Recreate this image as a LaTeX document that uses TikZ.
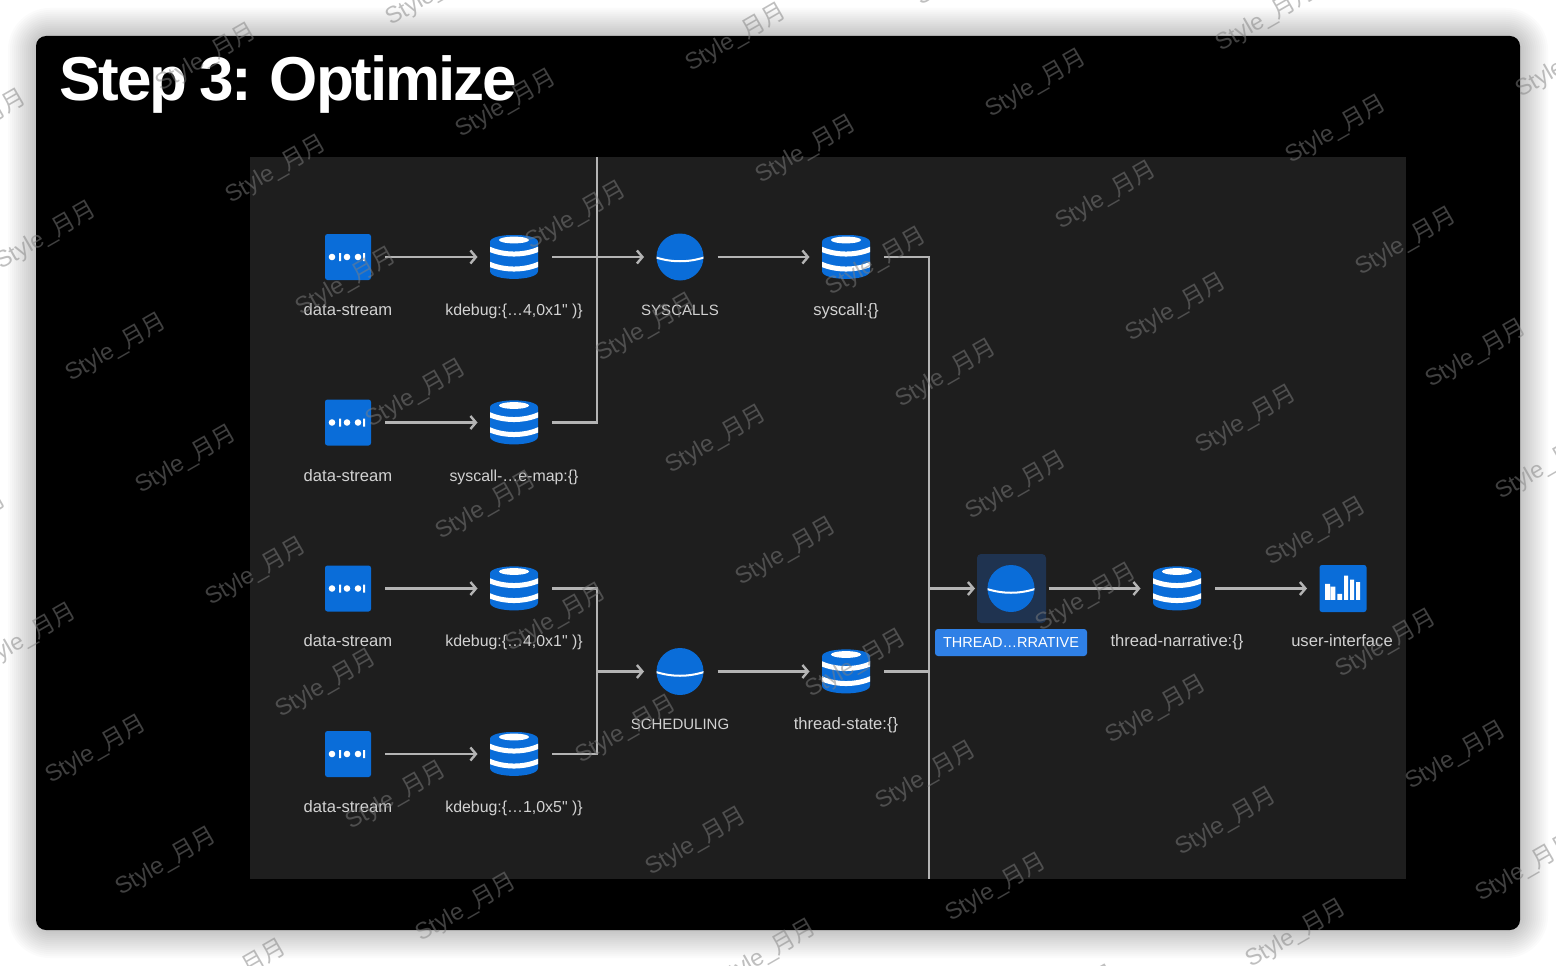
\documentclass[tikz,border=0pt]{standalone}
\usepackage{fontspec}
\setmainfont{Liberation Sans}
\newfontfamily\lblfont{Liberation Sans}
\newfontfamily\titlefont[LetterSpace=-3.3,WordSpace=0.8]{Liberation Sans}
\newfontfamily\cjk{Noto Sans CJK SC}
\usetikzlibrary{arrows.meta}
\definecolor{iconblue}{HTML}{0A6DD9}
\definecolor{pillblue}{HTML}{2F80E6}
\definecolor{panelgray}{HTML}{1E1E1E}
\definecolor{hilite}{HTML}{1F3350}
\definecolor{wire}{HTML}{B4B4B4}
\definecolor{lbltext}{HTML}{D2D2D2}
\tikzset{
	streambox/.style={rectangle,rounded corners=2.5,minimum size=46,inner sep=0,outer sep=0,fill=iconblue,
		path picture={\begin{scope}[sharp corners,shift={(path picture bounding box.center)}]
			\fill[white] (-16,0) circle (3.3) (-1,0) circle (3.3) (10,0) circle (3.3);
			\fill[white] (-9,-4) rectangle (-7,4) (15,-4) rectangle (17,4);
		\end{scope}}},
	chartbox/.style={rectangle,rounded corners=2.5,minimum size=47,inner sep=0,outer sep=0,fill=iconblue,
		path picture={\begin{scope}[sharp corners,shift={(path picture bounding box.center)}]
			\fill[white] (-18,-4.7) rectangle (-13,11.3) (-12.3,-2) rectangle (-7.7,11.3)
				(-5.7,5.3) rectangle (-1,11.3) (1,-13) rectangle (5,11.3)
				(7,-9) rectangle (11,11.3) (13,-6.3) rectangle (17,11.3);
		\end{scope}}},
	dbicon/.style={rectangle,minimum width=48,minimum height=44,inner sep=0,outer sep=0,
		path picture={\begin{scope}[shift={(path picture bounding box.center)}]
			\fill[iconblue] (-24,-15) .. controls (-24,-24.5) and (24,-24.5) .. (24,-15) -- (24,14)
				.. controls (24,24.5) and (-24,24.5) .. (-24,14) -- cycle;
			\fill[white] (0,-17) ellipse (15 and 3.4);
			\draw[white,line width=5] (-25,-8) .. controls (-10,-1.3) and (10,-1.3) .. (25,-8);
			\draw[white,line width=5] (-25,7) .. controls (-10,13.7) and (10,13.7) .. (25,7);
		\end{scope}}},
	orbicon/.style={circle,minimum size=47,inner sep=0,outer sep=0,fill=iconblue,
		path picture={\begin{scope}[shift={(path picture bounding box.center)}]
			\draw[white,line width=2] (-24,0.5) .. controls (-8,5.5) and (8,5.5) .. (24,0.5);
		\end{scope}}},
	lbl/.style={text=lbltext,font=\lblfont\fontsize{16.6}{18}\selectfont,inner sep=0,anchor=base},
	lblcode/.style={lbl,font=\lblfont\fontsize{15.9}{18}\selectfont},
	lblcaps/.style={lbl,font=\lblfont\fontsize{15}{18}\selectfont},
	flow/.style={wire,line width=2.4,-{Straight Barb[length=5.5,width=13]},shorten <=14,shorten >=12.5},
	bus/.style={wire,line width=2.4},
	wmark/.style={rotate=30,text=black!50,opacity=.5,font=\fontsize{23.5}{24}\selectfont,inner sep=0},
}
\begin{document}
\begin{tikzpicture}[x=1pt,y=-1pt]
	\clip (0,0) rectangle (1556,966);
	\fill[white] (0,0) rectangle (1556,966);
	% soft shadow round the window
	\foreach \g in {28,26,...,2}
		\fill[black,opacity=.014,rounded corners=14+\g] (36-\g,36-\g) rectangle (1520+\g,930+\g);
	\fill[black,rounded corners=10] (36,36) rectangle (1520,930);
	\node[text=white,font=\titlefont\fontsize{62}{62}\bfseries\selectfont,inner sep=0,anchor=base west] (title) at (59,100) {Step 3: Optimize};
	\fill[panelgray] (250,157) rectangle (1406,879);

	\node[streambox] (stream1) at (348,257) {};
	\node[streambox] (stream2) at (348,422.5) {};
	\node[streambox] (stream3) at (348,588.5) {};
	\node[streambox] (stream4) at (348,754) {};

	\node[dbicon] (kdebug1) at (514,257) {};
	\node[dbicon] (sysmap) at (514,422.5) {};
	\node[dbicon] (kdebug2) at (514,588.5) {};
	\node[dbicon] (kdebug3) at (514,754) {};

	\node[orbicon] (syscalls) at (680,257) {};
	\node[orbicon] (scheduling) at (680,671.5) {};

	\node[dbicon] (syscalldb) at (846,257) {};
	\node[dbicon] (statedb) at (846,671.5) {};

	\node[rectangle,rounded corners=4,minimum size=69,inner sep=0,fill=hilite] (threadbg) at (1011.5,588.5) {};
	\node[orbicon] (thread) at (1011,588.5) {};
	\node[dbicon] (narrativedb) at (1177,588.5) {};
	\node[chartbox] (ui) at (1343,588.5) {};

	\node[lbl] (lstream1) at (348,315) {data-stream};
	\node[lbl] (lstream2) at (348,481) {data-stream};
	\node[lbl] (lstream3) at (348,646.5) {data-stream};
	\node[lbl] (lstream4) at (348,812.5) {data-stream};
	\node[lblcode] (lkdebug1) at (514,315) {kdebug:\{…4,0x1" )\}};
	\node[lblcode] (lsysmap) at (514,481) {syscall-…e-map:\{\}};
	\node[lblcode] (lkdebug2) at (514,646.5) {kdebug:\{…4,0x1" )\}};
	\node[lblcode] (lkdebug3) at (514,812.5) {kdebug:\{…1,0x5" )\}};
	\node[lblcaps] (lsyscalls) at (680,315) {SYSCALLS};
	\node[lbl] (lsyscalldb) at (846,315) {syscall:\{\}};
	\node[lblcaps] (lscheduling) at (680,729.5) {SCHEDULING};
	\node[lbl] (lstatedb) at (846,729.5) {thread-state:\{\}};
	\node[rectangle,rounded corners=3,fill=pillblue,minimum width=152,minimum height=27,inner sep=0,text=white,font=\lblfont\fontsize{14.5}{18}\selectfont] (lthread) at (1011,642.5) {THREAD…RRATIVE};
	\node[lbl] (lnarrativedb) at (1177,646.5) {thread-narrative:\{\}};
	\node[lbl] (lui) at (1342,646.5) {user-interface};

	\coordinate (topend) at (597,157);
	\coordinate (lowjoin) at (597,671.5);
	\coordinate (trunkout) at (929,588.5);
	\coordinate (trunkbot) at (929,879);

	\draw[flow] (stream1) -- (kdebug1);
	\draw[flow] (stream2) -- (sysmap);
	\draw[flow] (stream3) -- (kdebug2);
	\draw[flow] (stream4) -- (kdebug3);
	\draw[flow] (kdebug1) -- (syscalls);
	\draw[flow] (syscalls) -- (syscalldb);
	\draw[flow] (scheduling) -- (statedb);
	\draw[flow] (thread) -- (narrativedb);
	\draw[flow] (narrativedb) -- (ui);
	\draw[flow,shorten <=0] (lowjoin) -- (scheduling);
	\draw[flow,shorten <=0] (trunkout) -- (thread);

	\draw[bus,shorten <=14] (sysmap) -| (topend);
	\draw[bus,shorten <=14] (kdebug2) -| (lowjoin);
	\draw[bus,shorten <=14] (kdebug3) -| (lowjoin);
	\draw[bus,shorten <=14] (syscalldb) -| (trunkbot);
	\draw[bus,shorten <=14] (statedb) -- (statedb -| trunkout);

	% watermark
	\foreach \i in {-9,...,9}
		\foreach \j in {-4,...,5}
			\node[wmark] (wm\i\j) at (276+70*\i+300*\j,170+112*\i+46*\j) {Style\_{\cjk 月月}};
\end{tikzpicture}
\end{document}
